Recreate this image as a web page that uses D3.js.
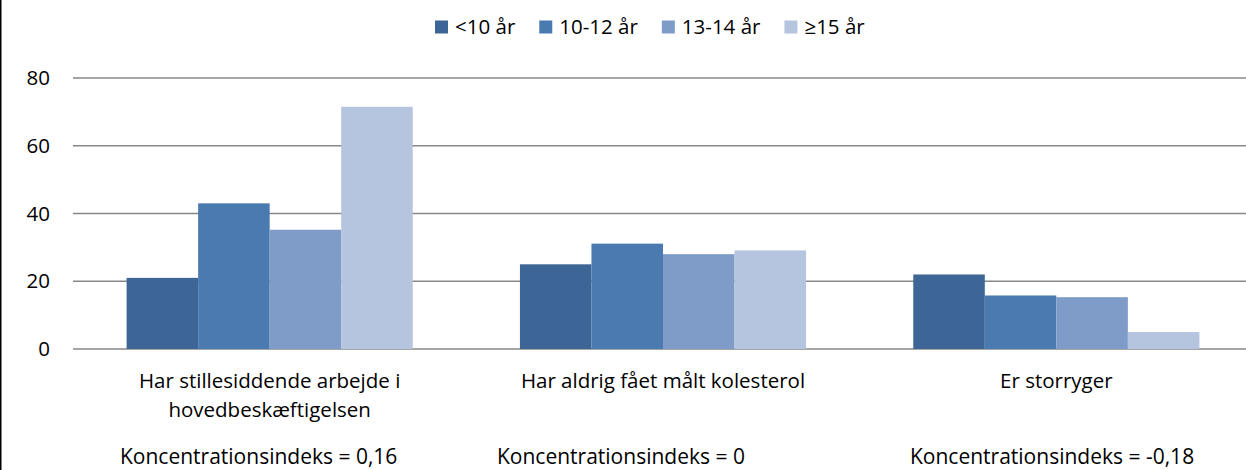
<!DOCTYPE html>
<html>
<head>
<meta charset="utf-8">
<script src="https://cdn.jsdelivr.net/npm/d3@7"></script>
<style>
  body { margin: 0; background: #fff; }
  svg { display: block; font-family: "Open Sans", sans-serif; }
</style>
</head>
<body>
<svg></svg>
<script>
const categories = [
  ['Har stillesiddende arbejde i', 'hovedbeskæftigelsen'],
  ['Har aldrig fået målt kolesterol'],
  ['Er storryger']
];
const seriesNames = ['<10 år', '10-12 år', '13-14 år', '≥15 år'];
const s1 = [21.0, 25.0, 22.0];
const s2 = [43.0, 31.1, 15.8];
const s3 = [35.2, 28.0, 15.3];
const s4 = [71.5, 29.1, 5.0];
const yTicks = [0, 20, 40, 60, 80];
const indexLabels = ['Koncentrationsindeks = 0,16', 'Koncentrationsindeks = 0', 'Koncentrationsindeks = -0,18'];
const indexX = [120, 497, 910];
const colors = ['#3d6696', '#4a7ab0', '#7f9cc8', '#b5c4df'];

const W = 1246, H = 470;
const series = [s1, s2, s3, s4];

const svg = d3.select('svg').attr('width', W).attr('height', H);

const x0 = d3.scaleBand().domain(d3.range(categories.length)).range([73, 1253]);
const x1 = d3.scaleBand().domain(d3.range(series.length)).range([53.6, x0.bandwidth() - 53.6]);
const y = d3.scaleLinear().domain([0, 80]).range([349, 78]);

// left frame line
svg.append('line').attr('x1', 0.75).attr('x2', 0.75).attr('y1', 0).attr('y2', H)
   .attr('stroke', '#000').attr('stroke-width', 1.5);

// gridlines
svg.append('g').selectAll('line').data(yTicks).join('line')
   .attr('x1', 73).attr('x2', W)
   .attr('y1', d => y(d)).attr('y2', d => y(d))
   .attr('stroke', '#878787').attr('stroke-width', 1.5);

// y labels
svg.append('g').selectAll('text').data(yTicks).join('text')
   .attr('x', 50).attr('y', d => y(d)).attr('dy', '0.35em')
   .attr('text-anchor', 'end').attr('font-size', 20.5).attr('fill', '#000')
   .text(d => d);

// bars
const groups = svg.append('g').selectAll('g').data(categories).join('g')
   .attr('transform', (d, i) => `translate(${x0(i)},0)`);
groups.selectAll('rect').data((d, i) => series.map((s, k) => ({ k, v: s[i] }))).join('rect')
   .attr('x', d => x1(d.k)).attr('width', x1.bandwidth())
   .attr('y', d => y(d.v)).attr('height', d => y(0) - y(d.v))
   .attr('fill', d => colors[d.k]);

// category labels
svg.append('g').selectAll('text').data(categories).join('text')
   .attr('x', (d, i) => x0(i) + x0.bandwidth() / 2).attr('y', 388)
   .attr('text-anchor', 'middle').attr('font-size', 20.5).attr('fill', '#000')
   .each(function (lines) {
     d3.select(this).selectAll('tspan').data(lines).join('tspan')
       .attr('x', d3.select(this).attr('x'))
       .attr('dy', (l, j) => j ? 29 : 0)
       .text(l => l);
   });

// concentration index labels
svg.append('g').selectAll('text').data(indexLabels).join('text')
   .attr('x', (d, i) => indexX[i]).attr('y', 464)
   .attr('font-size', 21).attr('fill', '#000')
   .text(d => d);

// legend
const legend = svg.append('g');
let lx = 435;
seriesNames.forEach((name, k) => {
  legend.append('rect').attr('x', lx).attr('y', 20.5).attr('width', 13).attr('height', 13)
        .attr('fill', colors[k]);
  const t = legend.append('text').attr('x', lx + 20).attr('y', 34)
        .attr('font-size', 20.5).attr('fill', '#000').text(name);
  lx += 20 + t.node().getComputedTextLength() + 24;
});
</script>
</body>
</html>
